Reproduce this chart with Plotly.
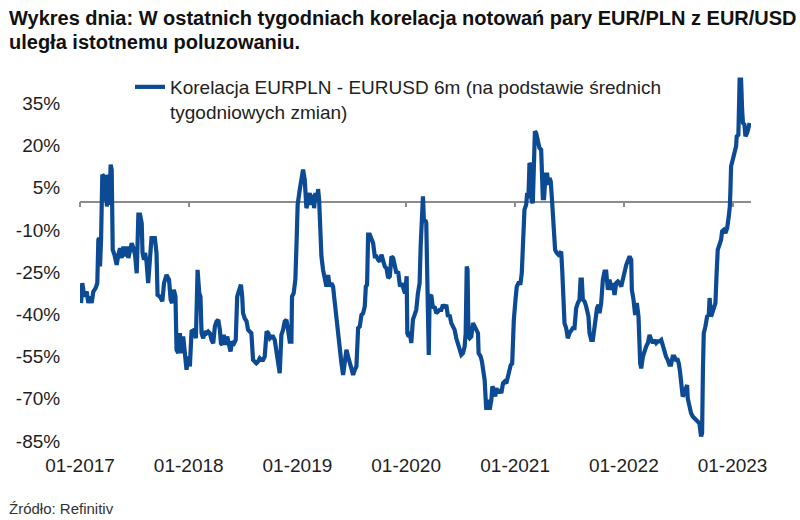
import numpy as np
import pandas as pd
import plotly.graph_objects as go

# ---- data (weeks since 2017-01-01, correlation in %) ----
start_date = "2017-01-01"
week = [
    0.5, 1.1, 2.1, 3.2, 4.0, 4.8, 5.6, 6.4, 7.5, 8.3, 8.8, 9.3, 9.6, 10.1, 10.7, 11.5, 12.0, 12.3, 12.9, 13.6,
    14.1, 14.7, 15.2, 15.5, 15.7, 16.5, 17.6, 18.4, 19.2, 20.0, 20.8, 21.6, 22.4, 23.2, 24.0, 24.8, 25.6, 26.4,
    27.2, 28.0, 28.8, 29.6, 30.0, 30.7, 31.2, 31.9, 32.7, 33.5, 34.3, 35.9, 36.7, 37.2, 38.3, 39.5, 40.3, 41.5,
    42.7, 43.5, 44.2, 45.0, 45.8, 46.3, 47.1, 47.9, 48.7, 49.5, 50.3, 51.1, 51.9, 52.7,
    53.5, 54.8, 55.6, 56.4, 57.2, 57.8, 58.3, 59.1, 59.9, 60.7, 61.5, 62.3, 63.1, 63.9, 64.7, 65.5, 66.3, 67.1,
    67.6, 68.2, 69.0, 69.8, 70.6, 71.4, 72.2, 73.0, 73.9, 74.7, 75.4, 76.1, 77.2, 77.8, 78.2, 79.0, 79.9, 80.6,
    81.4, 82.2, 83.0, 83.8, 84.6, 85.4, 86.2, 87.0, 87.8, 88.6, 89.5, 90.3, 91.1, 91.9, 92.6, 93.4, 94.2, 95.0,
    95.8, 96.6, 97.4, 98.2, 99.0, 99.8, 100.6, 101.4, 101.7, 102.5, 103.3,
    103.9, 104.4, 105.4, 106.2, 107.0, 107.8, 108.6, 109.4, 110.2, 111.0, 111.8, 112.3, 112.9, 113.7, 114.2,
    114.7, 115.2, 115.8, 116.6, 117.4, 118.2, 119.0, 119.8, 120.6, 121.4, 121.9, 122.5, 123.3, 123.8, 124.6,
    125.4, 126.2, 127.0, 127.8, 128.6, 129.4, 130.2, 131.0, 131.8, 132.6, 133.4, 134.2, 135.0, 135.8, 136.6,
    137.1, 137.7, 138.2, 139.0, 139.8, 140.6, 141.4, 142.2, 143.0, 143.8, 144.6, 145.4, 146.2, 147.0, 147.8,
    148.6, 149.4, 150.2, 151.0, 151.8, 152.6, 153.5, 154.3, 155.1, 155.9, 156.7,
    157.0, 157.7, 158.1, 158.9, 159.7, 160.5, 161.3, 162.1, 162.9, 163.4, 163.7, 164.1, 164.5, 165.0, 165.6,
    166.1, 166.6, 166.9, 167.3, 167.7, 168.5, 169.3, 170.1, 170.9, 171.7, 172.5, 173.3, 174.1, 174.9, 175.7,
    176.5, 177.3, 178.1, 178.9, 179.7, 180.5, 181.3, 182.1, 182.9, 183.7, 184.5, 185.0, 185.5, 185.9, 186.3,
    186.9, 187.7, 188.5, 189.3, 190.1, 190.9, 191.2, 192.2, 192.8, 193.6, 194.1, 194.6, 194.9, 195.7, 196.5,
    197.3, 197.8, 198.6, 199.2, 199.7, 200.5, 201.3, 202.1, 202.9, 203.7, 204.5, 205.3, 206.1, 206.6, 207.3,
    207.7,
    208.1, 208.9, 209.5, 210.3, 211.3, 211.9, 212.4, 213.2, 214.0, 214.5, 215.1, 215.6, 216.1, 216.6, 217.2,
    217.7, 218.2, 218.8, 219.6, 220.4, 221.2, 221.7, 222.0, 222.6, 223.3, 224.1, 224.7, 225.2, 225.8, 226.3,
    226.8, 227.2, 227.9, 228.7, 229.5, 230.3, 230.8, 231.3, 231.9, 232.4, 233.2, 234.0, 234.8, 235.6, 236.4,
    237.2, 238.0, 238.8, 239.6, 240.1, 240.7, 241.2, 242.0, 242.8, 243.3, 243.9, 244.4, 245.2, 246.0, 246.8,
    247.3, 248.0, 248.7, 249.2, 250.0, 250.8, 251.6, 252.4, 253.2, 254.0, 254.8, 255.6, 256.4, 257.2, 258.0,
    258.8, 259.6, 260.4,
    261.2, 262.0, 262.8, 263.6, 264.4, 264.7, 265.5, 266.3, 267.1, 267.9, 268.7, 269.2, 270.0, 270.8, 271.6,
    272.4, 273.2, 274.0, 274.8, 275.6, 276.4, 277.2, 278.0, 278.8, 279.5, 280.3, 281.1, 281.9, 282.7, 283.5,
    284.3, 285.1, 285.9, 286.7, 287.2, 287.8, 288.6, 289.1, 289.9, 290.7, 291.2, 291.5, 292.3, 293.1, 293.9,
    294.7, 295.5, 296.3, 297.1, 297.9, 298.4, 298.8, 299.2, 300.0, 300.8, 301.6, 302.0, 302.7, 303.5, 304.3,
    304.8, 305.3, 305.9, 306.7, 307.5, 308.0, 308.8, 309.6, 310.4, 311.2, 311.7, 312.0, 312.3, 313.1, 313.9,
    314.7, 315.0, 315.8, 316.4, 317.1, 317.6, 318.0, 318.7, 319.2, 320.0, 320.6, 321.2,
]
corr = [
    -36.0, -28.9, -33.7, -31.9, -36.0, -33.7, -36.0, -31.9, -30.7, -28.9, -13.5, -12.9, -23.0, -13.5, 9.6, 9.0,
    0.1, 9.6, -1.7, 9.6, -1.1, 13.2, 11.4, -1.7, -17.1, -18.8, -22.4, -18.8, -16.5, -20.0, -15.9, -19.4, -15.9,
    -20.0, -17.1, -14.7, -16.5, -18.8, -25.4, -4.6, -4.6, -7.6, -18.2, -20.6, -18.2, -21.2, -28.9, -19.4, -12.9,
    -12.9, -18.2, -33.1, -33.7, -35.4, -28.9, -26.0, -27.7, -34.8, -36.0, -31.3, -33.7, -52.6, -53.8, -46.7,
    -53.8, -47.9, -55.0, -59.7, -55.0, -58.5,
    -46.1, -45.5, -48.5, -24.2, -32.5, -33.7, -46.7, -48.5, -46.1, -46.7, -46.1, -46.7, -49.1, -50.3, -44.3,
    -42.5, -42.0, -45.5, -50.3, -50.8, -47.3, -50.8, -47.9, -51.4, -53.2, -49.7, -50.3, -49.1, -33.7, -31.9,
    -29.5, -33.7, -39.6, -41.4, -42.5, -45.5, -46.1, -46.7, -56.2, -56.8, -57.4, -56.8, -55.6, -56.2, -56.2,
    -55.0, -46.1, -46.7, -48.5, -47.9, -47.9, -49.1, -53.8, -58.5, -60.9, -47.3, -45.5, -42.5, -42.0, -45.5,
    -49.7, -49.7, -33.7, -32.5, -27.7,
    -14.0, -1.0, 4.3, 9.0, 11.4, 7.8, -2.3, 0.1, 3.1, -1.1, 2.5, -2.3, 3.1, 0.1, 4.5, 0.7, -8.8, -19.4, -24.2,
    -26.5, -30.1, -26.0, -30.1, -28.9, -30.1, -33.7, -38.4, -42.0, -46.7, -51.4, -57.4, -61.5, -56.2, -52.6,
    -55.0, -56.8, -59.7, -61.5, -59.7, -58.5, -44.9, -44.3, -40.2, -39.6, -37.2, -30.1, -29.5, -11.7, -11.7,
    -12.9, -14.7, -19.4, -19.4, -20.6, -21.2, -18.8, -20.6, -23.0, -23.6, -27.1, -26.5, -19.4, -20.0, -23.0,
    -25.4, -24.8, -30.1, -28.9, -30.7, -32.5, -26.5,
    -46.7, -47.9, -46.1, -50.2, -41.9, -40.2, -38.4, -32.5, -28.9, -15.9, -10.0, 1.9, 1.9, -7.6, -6.4, -7.6,
    -20.6, -39.6, -54.4, -33.7, -33.1, -37.8, -37.2, -39.6, -39.0, -38.4, -38.4, -36.6, -37.8, -36.6, -40.8,
    -40.2, -43.1, -44.3, -45.5, -48.5, -50.8, -52.6, -54.4, -53.8, -51.4, -46.7, -23.0, -24.2, -47.9, -48.5,
    -47.9, -43.1, -44.3, -46.1, -46.7, -53.8, -55.0, -56.8, -59.7, -63.3, -70.4, -73.9, -70.4, -73.9, -70.4,
    -65.6, -66.8, -69.2, -66.2, -68.0, -66.8, -68.0, -64.5, -63.9, -64.5, -62.1, -59.0, -58.0, -57.5,
    -43.1,
    -41.9, -34.8, -30.1, -28.9, -28.9, -25.4, -15.9, -2.8, -1.1, 3.1, 1.3, 13.7, 13.2, 0.7, -0.5, 11.4, 25.0,
    24.4, 22.0, 19.1, 18.5, 9.0, 1.3, 1.3, 9.6, 9.6, 6.0, 8.4, 7.2, 1.9, -5.2, -13.5, -17.1, -18.2, -18.8,
    -18.2, -17.7, -24.2, -33.7, -43.1, -44.9, -48.5, -46.7, -45.5, -44.9, -44.9, -37.8, -36.0, -34.8, -27.7,
    -27.7, -34.8, -35.4, -37.2, -39.0, -40.8, -46.7, -49.1, -49.1, -43.7, -39.6, -37.8, -36.6, -39.6, -36.0,
    -27.7, -24.8, -24.8, -31.3, -27.7, -31.3, -28.9, -33.1, -28.9, -28.3, -28.9, -30.1, -27.1,
    -24.0, -22.5, -21.0, -19.4, -20.6, -31.3, -34.8, -40.2, -36.0, -40.8, -57.4, -59.2, -55.0, -52.6, -51.4,
    -50.2, -47.3, -49.1, -50.2, -49.1, -50.2, -49.6, -49.6, -49.1, -51.4, -53.2, -55.0, -56.2, -57.9, -57.9,
    -55.0, -55.0, -56.2, -56.2, -57.4, -60.3, -66.8, -69.2, -68.0, -65.1, -65.1, -69.8, -72.8, -75.1, -76.3,
    -76.9, -77.5, -78.1, -78.7, -83.4, -82.2, -59.7, -46.7, -44.3, -40.8, -40.2, -34.2, -40.8, -38.4, -36.0,
    -36.0, -26.5, -17.1, -15.3, -13.5, -10.5, -10.0, -11.1, -9.4, -5.2, -1.7, 4.3, 12.6, 14.9, 17.3,
    19.7, 23.2, 23.8, 43.4, 43.4, 32.7, 28.0, 27.4, 23.2, 24.4, 27.4, 28.0,
]
y_tick_vals = [-85, -70, -55, -40, -25, -10, 5, 20, 35]
y_tick_text = ["-85%", "-70%", "-55%", "-40%", "-25%", "-10%", "5%", "20%", "35%"]
x_tick_vals = ["2017-01-01", "2018-01-01", "2019-01-01", "2020-01-01", "2021-01-01", "2022-01-01", "2023-01-01"]
x_tick_text = ["01-2017", "01-2018", "01-2019", "01-2020", "01-2021", "01-2022", "01-2023"]
series_name = "Korelacja EURPLN - EURUSD 6m (na podstawie średnich<br>tygodniowych zmian)"
title_line1 = "<b>Wykres dnia: W ostatnich tygodniach korelacja notowań pary EUR/PLN z EUR/USD</b>"
title_line2 = "<b>uległa istotnemu poluzowaniu.</b>"
source_text = "Źródło: Refinitiv"

dates = pd.Timestamp(start_date) + pd.to_timedelta(np.array(week) * 7, unit="D")

# ---- layout constants ----
W, H = 800, 520
ML, MR, MT, MB = 80, 49, 61, 79
PW, PH = W - ML - MR, H - MT - MB
X_RANGE = ["2017-01-01", "2023-03-04"]
Y_RANGE = [-85, 50]
BLUE = "#0C4A93"
GREY = "#8C8C8C"
TXT = "#1E1E1E"
FONT = "Liberation Sans, Arial, sans-serif"


def px_x(px):
    return (px - ML) / PW


def px_y(py):
    return (H - MB - py) / PH


zero_pos = (0 - Y_RANGE[0]) / (Y_RANGE[1] - Y_RANGE[0])

fig = go.Figure()
# empty trace that only makes the zero-line axis (xaxis2) exist
fig.add_trace(go.Scatter(x=[], y=[], xaxis="x2", yaxis="y", mode="lines",
                         showlegend=False, hoverinfo="skip"))
fig.add_trace(go.Scatter(
    x=dates, y=corr, mode="lines", name=series_name, xaxis="x", yaxis="y",
    line=dict(color=BLUE, width=4.2), showlegend=True, hoverinfo="skip",
))

fig.update_layout(
    width=W, height=H,
    margin=dict(l=ML, r=MR, t=MT, b=MB),
    paper_bgcolor="white", plot_bgcolor="white",
    font=dict(family=FONT, color=TXT, size=18),
    showlegend=True,
    legend=dict(x=px_x(130), y=px_y(68), xanchor="left", yanchor="top", valign="top",
                bgcolor="rgba(0,0,0,0)", font=dict(family=FONT, size=19, color="#222222")),
    xaxis=dict(type="date", range=X_RANGE, tickvals=x_tick_vals, ticktext=x_tick_text,
               showgrid=False, zeroline=False, showline=False,
               ticks="outside", ticklen=7, tickcolor="rgba(0,0,0,0)",
               tickfont=dict(family=FONT, size=19, color=TXT)),
    xaxis2=dict(type="date", range=X_RANGE, overlaying="x", anchor="free", position=zero_pos,
                tickvals=x_tick_vals, showticklabels=False, showgrid=False, zeroline=False,
                showline=True, linecolor=GREY, linewidth=1.5, layer="below traces",
                ticks="outside", ticklen=5, tickwidth=1.5, tickcolor=GREY),
    yaxis=dict(range=Y_RANGE, tickvals=y_tick_vals, ticktext=y_tick_text,
               showgrid=False, zeroline=False, showline=False,
               ticks="outside", ticklen=15, tickcolor="rgba(0,0,0,0)",
               tickfont=dict(family=FONT, size=19, color=TXT)),
    annotations=[
        dict(text=title_line1, x=px_x(7), y=px_y(18), xref="paper", yref="paper",
             xanchor="left", yanchor="middle", align="left", showarrow=False,
             font=dict(family=FONT, size=20, color="#111111")),
        dict(text=title_line2, x=px_x(7), y=px_y(42), xref="paper", yref="paper",
             xanchor="left", yanchor="middle", align="left", showarrow=False,
             font=dict(family=FONT, size=20, color="#111111")),
        dict(text=source_text, x=px_x(7), y=px_y(508), xref="paper", yref="paper",
             xanchor="left", yanchor="middle", showarrow=False,
             font=dict(family=FONT, size=15, color="#333333")),
    ],
)

fig.write_html("out.html", config={"displayModeBar": False},
               post_script="document.body.style.margin='0';")
